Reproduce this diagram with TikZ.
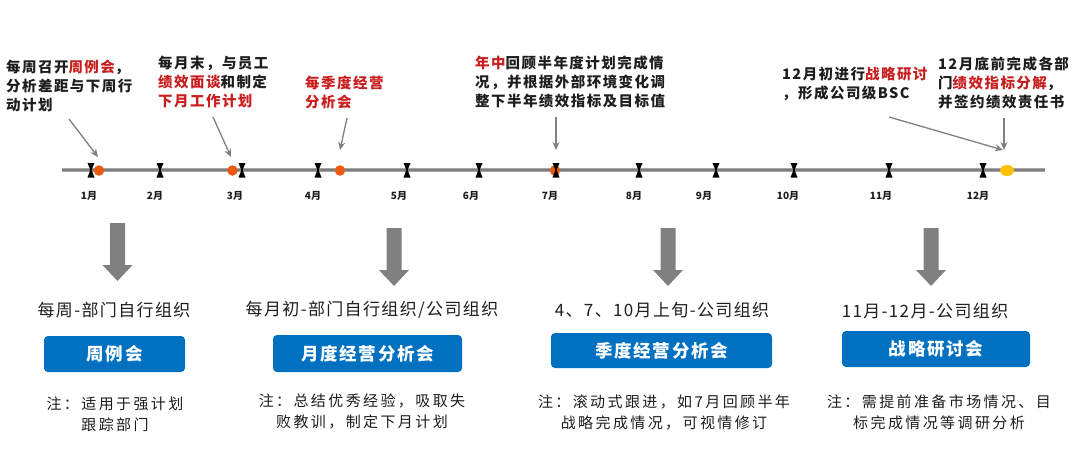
\documentclass[tikz,border=0pt]{standalone}
\usepackage{fontspec}
\usetikzlibrary{arrows.meta,shapes.geometric}
\newfontfamily\annf[LetterSpace=10]{Noto Sans CJK SC}
\newfontfamily\subf[LetterSpace=8]{Noto Sans CJK SC}
\newfontfamily\boxf[LetterSpace=10]{Noto Sans CJK SC}
\newfontfamily\notef[LetterSpace=16]{Noto Sans CJK SC}
\newfontfamily\monf{Noto Sans CJK SC}
\definecolor{txt}{RGB}{30,30,30}
\definecolor{redt}{RGB}{200,30,30}
\definecolor{dotor}{RGB}{235,90,15}
\definecolor{doty}{RGB}{255,192,0}
\definecolor{boxb}{RGB}{0,112,192}
\definecolor{arrg}{RGB}{128,128,128}
\definecolor{tlout}{RGB}{166,166,166}
\definecolor{tlin}{RGB}{125,125,125}
\newcommand{\rd}[1]{\textcolor{redt}{#1}}
\begin{document}
\begin{tikzpicture}[x=1pt,y=-1pt,
  ann/.style={anchor=north west,inner sep=0,align=left,text=txt,font=\annf\bfseries\fontsize{14.5}{19}\selectfont},
  sub/.style={inner sep=0,text=txt,font=\subf\fontsize{17}{20}\selectfont},
  bbox/.style={fill=boxb,rounded corners=4pt,inner sep=0,text=white,font=\boxf\bfseries\fontsize{17.5}{20}\selectfont},
  note/.style={anchor=north,inner sep=0,align=center,text=txt,font=\notef\fontsize{15}{21}\selectfont},
  mon/.style={inner sep=0,text=txt,font=\monf\bfseries\fontsize{10}{11}\selectfont},
  odot/.style={circle,fill=dotor,minimum size=10.5pt,inner sep=0},
  ydot/.style={ellipse,fill=doty,minimum width=14pt,minimum height=11pt,inner sep=0},
  thinarr/.style={draw=arrg,line width=1.3pt,-{Stealth[length=8pt,width=7pt]}},
  bigarr/.style={fill=arrg},
  tick/.style={fill=black}]
\useasboundingbox[fill=white] (0,0) rectangle (1080,466);

% timeline
\coordinate (tl0) at (62,170);
\coordinate (tl1) at (1045,170);
\draw[tlout,line width=3.6pt] (tl0) -- (tl1);
\draw[tlin,line width=1.4pt] (tl0) -- (tl1);

% dots
\node[odot] (d1) at (99,170.5) {};
\node[odot] (d3) at (232.5,170.5) {};
\node[odot] (d4) at (340,170.5) {};
\node[odot] (d7) at (555,170.5) {};
\node[ydot] (d12) at (1007,170.5) {};

% ticks and month labels
\foreach \x/\m/\lx [count=\i] in {91/1/89,160/2/155,242/3/235,318/4/313,407/5/399,479/6/471,556/7/550,639/8/634,716/9/704,794/10/788,889/11/881,983/12/978}{
  \fill[tick] ({\x-3.5},163) -- ({\x+3.5},163) -- ({\x+0.6},170) -- ({\x+3.5},177.5) -- ({\x-3.5},177.5) -- ({\x-0.6},170) -- cycle;
  \node[mon] (m\i) at (\lx,196) {\m 月};
}

% annotations
\node[ann] (a1) at (6,59.5) {每周召开\rd{周例会}，\\分析差距与下周行\\动计划};
\node[ann] (a2) at (158,56) {每月末，与员工\\\rd{绩效面谈}和制定\\\rd{下月工作计划}};
\node[ann,text=redt] (a3) at (305,75.5) {每季度经营\\分析会};
\node[ann] (a4) at (475,56) {\rd{年中}回顾半年度计划完成情\\况，并根据外部环境变化调\\整下半年绩效指标及目标值};
\node[ann] (a5) at (782,66.5) {12月初进行\rd{战略研讨}\\，形成公司级BSC};
\node[ann] (a6) at (938,56.5) {12月底前完成各部\\门\rd{绩效指标分解}，\\并签约绩效责任书};

% annotation arrows
\coordinate (a1s) at (69,119);   \coordinate (a1e) at (98,157);
\coordinate (a2s) at (213,117);  \coordinate (a2e) at (231,157);
\coordinate (a3s) at (347,118);  \coordinate (a3e) at (340,150);
\coordinate (a4s) at (556,117);  \coordinate (a4e) at (556,150);
\coordinate (a5s) at (889,117);  \coordinate (a5e) at (1003,150);
\coordinate (a6s) at (1004,118); \coordinate (a6e) at (1004,150);
\draw[thinarr] (a1s) -- (a1e);
\draw[thinarr] (a2s) -- (a2e);
\draw[thinarr] (a3s) -- (a3e);
\draw[thinarr] (a4s) -- (a4e);
\draw[thinarr] (a5s) -- (a5e);
\draw[thinarr] (a6s) -- (a6e);

% big down arrows
\foreach \cx/\ty in {117.5/223,394/228,668/228,931/228}{
  \fill[bigarr] ({\cx-7.5},\ty) -- ({\cx+7.5},\ty) -- ({\cx+7.5},{\ty+42}) -- ({\cx+15},{\ty+42})
     -- (\cx,{\ty+58}) -- ({\cx-15},{\ty+42}) -- ({\cx-7.5},{\ty+42}) -- cycle;
}

% subtitles
\node[sub] (s1) at (114,310) {每周-部门自行组织};
\node[sub] (s2) at (372,310) {每月初-部门自行组织/公司组织};
\node[sub] (s3) at (662,310) {4、7、10月上旬-公司组织};
\node[sub] (s4) at (925,311) {11月-12月-公司组织};

% blue boxes
\node[bbox,minimum width=141pt,minimum height=36pt] (b1) at (114.5,354) {周例会};
\node[bbox,minimum width=189pt,minimum height=37pt] (b2) at (367.5,353.5) {月度经营分析会};
\node[bbox,minimum width=221pt,minimum height=35pt] (b3) at (661.5,350.5) {季度经营分析会};
\node[bbox,minimum width=188pt,minimum height=36pt] (b4) at (936,349) {战略研讨会};

% notes
\node[note] (n1) at (115,396.5) {注：适用于强计划\\跟踪部门};
\node[note] (n2) at (362,394) {注：总结优秀经验，吸取失\\败教训，制定下月计划};
\node[note] (n3) at (664,394.5) {注：滚动式跟进，如7月回顾半年\\战略完成情况，可视情修订};
\node[note] (n4) at (939,394.5) {注：需提前准备市场情况、目\\标完成情况等调研分析};
\end{tikzpicture}
\end{document}
